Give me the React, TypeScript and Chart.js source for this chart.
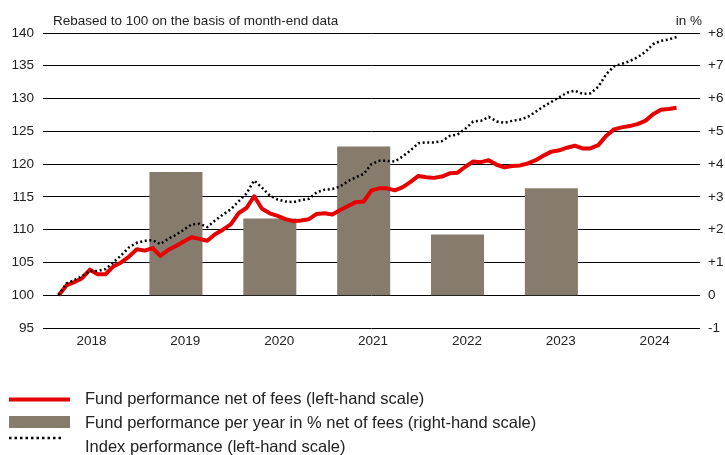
import { useEffect, useRef } from "react";
import { Chart, registerables } from "chart.js";

Chart.register(...registerables);

// months counted from January 2018 (0 = start of 2018)
const startMonth = 2;

const fundValues = [
  100, 101.5, 102.0, 102.6, 103.9, 103.2, 103.2, 104.4, 105.0, 105.9,
  107.0, 106.8, 107.2, 106.0, 106.9, 107.5, 108.2, 108.85, 108.6, 108.3,
  109.3, 110.0, 110.8, 112.5, 113.3, 115.1, 113.2, 112.5, 112.1, 111.6,
  111.3, 111.4, 111.6, 112.4, 112.5, 112.3, 113.0, 113.6, 114.2, 114.3,
  116.0, 116.3, 116.3, 116.0, 116.5, 117.3, 118.2, 118.0, 117.9, 118.1,
  118.6, 118.7, 119.6, 120.4, 120.3, 120.6, 119.9, 119.5, 119.7, 119.8,
  120.1, 120.6, 121.3, 121.9, 122.1, 122.5, 122.8, 122.4, 122.4, 122.9,
  124.3, 125.3, 125.6, 125.8, 126.1, 126.6, 127.6, 128.3, 128.4, 128.6,
];

const indexValues = [
  100, 101.8, 102.3, 102.9, 103.7, 103.7, 104.0, 105.0, 106.1, 107.3,
  108.0, 108.3, 108.4, 107.8, 108.6, 109.2, 110.0, 110.8, 110.9, 110.4,
  111.4, 112.3, 113.1, 114.3, 115.5, 117.5, 116.4, 115.2, 114.6, 114.3,
  114.2, 114.5, 114.7, 115.7, 116.1, 116.2, 116.6, 117.4, 118.0, 118.5,
  120.0, 120.5, 120.5, 120.4, 121.2, 122.1, 123.2, 123.3, 123.3, 123.5,
  124.3, 124.5, 125.4, 126.5, 126.6, 127.2, 126.5, 126.3, 126.6, 126.8,
  127.2, 128.0, 128.8, 129.5, 130.2, 130.9, 131.2, 130.7, 130.8, 131.8,
  133.7, 134.9, 135.3, 135.7, 136.3, 137.1, 138.3, 138.8, 139.0, 139.4,
];

const barYears = [2019, 2020, 2021, 2022, 2023];
const barValues = [3.76, 2.34, 4.54, 1.85, 3.26];

const yearLabels = ["2018", "2019", "2020", "2021", "2022", "2023", "2024"];

const legendLabels = [
  "Fund performance net of fees (left-hand scale)",
  "Fund performance per year in % net of fees (right-hand scale)",
  "Index performance (left-hand scale)",
];

const titleText = "Rebased to 100 on the basis of month-end data";
const rightUnit = "in %";

const RED = "#e60000";
const TAUPE = "#877b6e";
const TEXT = "#222222";
const FONT = '"Liberation Sans", Arial, sans-serif';

export default function App() {
  const ref = useRef<HTMLCanvasElement>(null);

  useEffect(() => {
    const canvas = ref.current;
    if (!canvas) return;

    const fundPoints = fundValues.map((v, i) => ({ x: startMonth + i, y: v }));
    const indexPoints = indexValues.map((v, i) => ({ x: startMonth + i, y: v }));
    const barPoints = barYears.map((yr, i) => ({ x: (yr - 2018) * 12 + 5, y: barValues[i] }));

    const overlay = {
      id: "overlay",
      afterDraw(chart: any) {
        const ctx = chart.ctx as CanvasRenderingContext2D;
        ctx.save();
        ctx.fillStyle = TEXT;
        ctx.textBaseline = "middle";
        ctx.font = `13.5px ${FONT}`;
        ctx.textAlign = "left";
        ctx.fillText(titleText, 53, 21);
        ctx.textAlign = "right";
        ctx.fillText(rightUnit, 702, 21);

        ctx.textAlign = "left";
        ctx.font = `16.5px ${FONT}`;
        // legend 1: red line
        ctx.strokeStyle = RED;
        ctx.lineWidth = 4;
        ctx.beginPath();
        ctx.moveTo(9, 399.5);
        ctx.lineTo(70, 399.5);
        ctx.stroke();
        ctx.fillText(legendLabels[0], 85, 399);
        // legend 2: bar
        ctx.fillStyle = TAUPE;
        ctx.fillRect(9, 416, 61, 12);
        ctx.fillStyle = TEXT;
        ctx.fillText(legendLabels[1], 85, 423);
        // legend 3: dotted
        ctx.strokeStyle = "#000";
        ctx.lineWidth = 2.5;
        ctx.setLineDash([2.5, 3]);
        ctx.beginPath();
        ctx.moveTo(9, 438);
        ctx.lineTo(63, 438);
        ctx.stroke();
        ctx.setLineDash([]);
        ctx.fillText(legendLabels[2], 85, 447);
        ctx.restore();
      },
    };

    const chart = new Chart(canvas, {
      type: "bar",
      data: {
        datasets: [
          {
            type: "line",
            label: legendLabels[2],
            data: indexPoints,
            yAxisID: "y",
            borderColor: "#000",
            borderWidth: 2.5,
            borderDash: [2, 2.6],
            pointRadius: 0,
            tension: 0,
            fill: false,
            order: 0,
          } as any,
          {
            type: "line",
            label: legendLabels[0],
            data: fundPoints,
            yAxisID: "y",
            borderColor: RED,
            borderWidth: 4,
            borderJoinStyle: "round",
            pointRadius: 0,
            tension: 0,
            fill: false,
            order: 1,
          } as any,
          {
            type: "bar",
            label: legendLabels[1],
            data: barPoints,
            yAxisID: "y1",
            backgroundColor: TAUPE,
            borderWidth: 0,
            categoryPercentage: 1,
            barPercentage: 0.565,
            order: 2,
          } as any,
        ],
      },
      options: {
        responsive: false,
        animation: false,
        events: [],
        layout: { padding: { top: 33, bottom: 97, left: 0, right: 0 } },
        plugins: {
          legend: { display: false },
          tooltip: { enabled: false },
          title: { display: false },
        },
        scales: {
          x: {
            type: "linear",
            min: 0,
            max: 84,
            offset: false,
            grid: { display: false, drawTicks: false },
            border: { display: false },
            afterBuildTicks: (s: any) => {
              s.ticks = yearLabels.map((_, i) => ({ value: i * 12 + 6.2 }));
            },
            afterFit: (s: any) => {
              s.height = 30;
            },
            ticks: {
              autoSkip: false,
              maxRotation: 0,
              padding: 5,
              color: TEXT,
              font: { family: FONT, size: 13.5 },
              callback: (_v: any, i: number) => yearLabels[i],
            },
          },
          y: {
            type: "linear",
            position: "left",
            min: 95,
            max: 140,
            grid: { color: "#000", lineWidth: 1, drawTicks: false },
            border: { display: false },
            afterFit: (s: any) => {
              s.width = 43;
            },
            ticks: {
              stepSize: 5,
              padding: 9,
              color: TEXT,
              font: { family: FONT, size: 13.5 },
            },
          },
          y1: {
            type: "linear",
            position: "right",
            min: -1,
            max: 8,
            grid: { display: false, drawTicks: false },
            border: { display: false },
            afterFit: (s: any) => {
              s.width = 25;
            },
            ticks: {
              stepSize: 1,
              padding: 8,
              color: TEXT,
              font: { family: FONT, size: 13.5 },
              callback: (v: any) => (Number(v) > 0 ? "+" + v : String(v)),
            },
          },
        },
      },
      plugins: [overlay],
    });

    return () => chart.destroy();
  }, []);

  return (
    <div style={{ position: "absolute", left: 0, top: 0, width: 725, height: 455, background: "#fff" }}>
      <canvas ref={ref} width={725} height={455} style={{ display: "block" }} />
    </div>
  );
}
